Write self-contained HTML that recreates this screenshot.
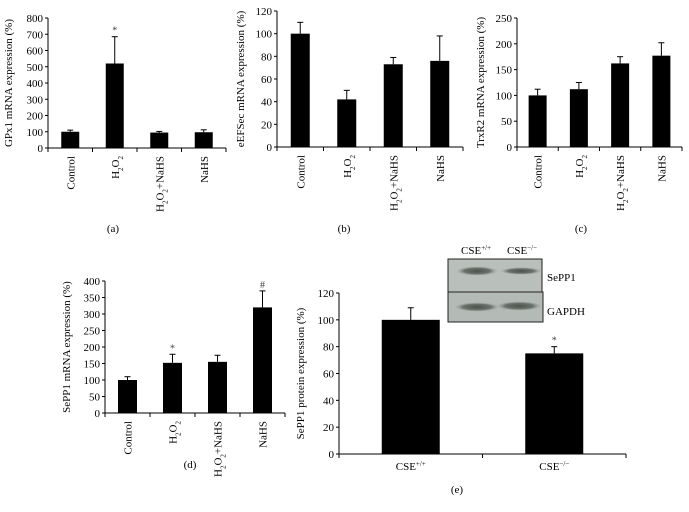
<!DOCTYPE html>
<html><head><meta charset="utf-8"><style>
html,body{margin:0;padding:0;background:#fff;}
svg{display:block;font-family:"Liberation Serif",serif;}
</style></head><body>
<svg id="fig" width="689" height="512" viewBox="0 0 689 512"></svg>
<script>
const catsMRNA = ["Control","H2O2","H2O2+NaHS","NaHS"];
const gpx1Vals = [100, 520, 95, 97];
const gpx1Err = [110, 685, 102, 112];
const eefsecVals = [100, 42, 73, 76];
const eefsecErr = [110, 50, 79, 98];
const trxr2Vals = [100, 112, 162, 177];
const trxr2Err = [112, 125, 175, 202];
const sepp1Vals = [100, 152, 155, 320];
const sepp1Err = [110, 178, 175, 370];
const stars_d = ["", "*", "", "#"];
const stars_a = ["", "*", "", ""];
const catsE = ["CSE+/+","CSE-/-"];
const proteinVals = [100, 75];
const proteinErr = [109, 80];
const stars_e = ["", "*"];
const ticksA = [0,100,200,300,400,500,600,700,800];
const ticksB = [0,20,40,60,80,100,120];
const ticksC = [0,50,100,150,200,250];
const ticksD = [0,50,100,150,200,250,300,350,400];
const ticksE = [0,20,40,60,80,100,120];

const NS="http://www.w3.org/2000/svg";
const svg=document.getElementById('fig');
function mk(tag,attrs,parent){const e=document.createElementNS(NS,tag);for(const k in attrs)e.setAttribute(k,attrs[k]);(parent||svg).appendChild(e);return e;}

function catLabel(g,txt,x,y,rot){
  const t=mk('text',{x:x,y:y,'font-size':11,fill:'#000'},g);
  if(rot){t.setAttribute('transform','rotate(-90 '+x+' '+y+')');t.setAttribute('text-anchor','end');}
  else t.setAttribute('text-anchor','middle');
  function add(s,shift){const sp=mk('tspan',{},t);sp.textContent=s;if(shift){sp.setAttribute('baseline-shift',shift);sp.setAttribute('font-size',7);}}
  if(txt==="H2O2"){add("H");add("2","sub");add("O");add("2","sub");}
  else if(txt==="H2O2+NaHS"){add("H");add("2","sub");add("O");add("2","sub");add("+NaHS");}
  else if(txt==="CSE+/+"){add("CSE");add("+/+","super");}
  else if(txt==="CSE-/-"){add("CSE");add("\u2212/\u2212","super");}
  else add(txt);
  return t;
}

function panel(p){
  const g=mk('g',{});
  
  
  const ymax=p.ticks[p.ticks.length-1];
  const Y=v=>p.y0-(v/ymax)*(p.y0-p.y1);
  const cw=(p.x1-p.x0)/p.cats.length;
  const X=i=>p.x0+cw*(i+0.5);
  // axes
  const ya=mk('line',{x1:p.x0,y1:p.y1,x2:p.x0,y2:p.y0+4,stroke:'#000','stroke-width':1},g);
  
  const xa=mk('line',{x1:p.x0-3,y1:p.y0,x2:p.x1,y2:p.y0,stroke:'#000','stroke-width':1},g);
  
  p.ticks.forEach(v=>{
    mk('line',{x1:p.x0-3,y1:Y(v),x2:p.x0,y2:Y(v),stroke:'#000'},g);
    const t=mk('text',{x:p.x0-5,y:Y(v)+4,'font-size':11,'text-anchor':'end'},g);
    t.textContent=v;
    
  });
  for(let i=1;i<=p.cats.length;i++) mk('line',{x1:p.x0+cw*i,y1:p.y0,x2:p.x0+cw*i,y2:p.y0+4,stroke:'#000'},g);
  p.vals.forEach((v,i)=>{
    const cx=X(i);
    const el=mk('line',{x1:cx,y1:Y(v),x2:cx,y2:Y(p.err[i]),stroke:'#000','stroke-width':1},g);
    
    mk('line',{x1:cx-3,y1:Y(p.err[i]),x2:cx+3,y2:Y(p.err[i]),stroke:'#000'},g);
    const r=mk('rect',{x:cx-p.bw/2,y:Y(v),width:p.bw,height:p.y0-Y(v),fill:'#000'},g);
    
    
    if(p.stars&&p.stars[i]){const s=mk('text',{x:cx,y:Y(p.err[i])-3,'font-size':10,'text-anchor':'middle',fill:'#444'},g);s.textContent=p.stars[i];
      }
    const l=catLabel(g,p.cats[i],p.rot?cx+4:cx,p.rot?p.y0+8:p.y0+16,p.rot);
    
  });
  const tx=p.titleX, ty=(p.y0+p.y1)/2;
  const tt=mk('text',{x:tx,y:ty,'font-size':11,'text-anchor':'middle',transform:'rotate(-90 '+tx+' '+ty+')'},g);
  tt.textContent=p.title;
  
  const pl=mk('text',{x:p.lx,y:p.ly,'font-size':11,'text-anchor':'middle'},g);
  pl.textContent=p.letter;
  
}

panel({name:'panel-a-gpx1',x0:48,x1:226,y0:148,y1:18,ticks:ticksA,cats:catsMRNA,vals:gpx1Vals,err:gpx1Err,stars:stars_a,bw:18,rot:true,title:'GPx1 mRNA expression (%)',titleX:12,letter:'(a)',lx:113,ly:232});
panel({name:'panel-b-eefsec',x0:277,x1:463,y0:147,y1:11,ticks:ticksB,cats:catsMRNA,vals:eefsecVals,err:eefsecErr,bw:19,rot:true,title:'eEFSec mRNA expression (%)',titleX:244,letter:'(b)',lx:344,ly:232});
panel({name:'panel-c-trxr2',x0:517,x1:682,y0:147,y1:18,ticks:ticksC,cats:catsMRNA,vals:trxr2Vals,err:trxr2Err,bw:18,rot:true,title:'TrxR2 mRNA expression (%)',titleX:484,letter:'(c)',lx:581,ly:232});
panel({name:'panel-d-sepp1-mrna',x0:105,x1:285,y0:413,y1:281,ticks:ticksD,cats:catsMRNA,vals:sepp1Vals,err:sepp1Err,stars:stars_d,bw:19,rot:true,title:'SePP1 mRNA expression (%)',titleX:70,letter:'(d)',lx:190,ly:468});
panel({name:'panel-e-sepp1-protein',x0:339,x1:626,y0:454,y1:293,ticks:ticksE,cats:catsE,vals:proteinVals,err:proteinErr,stars:stars_e,bw:58,rot:false,title:'SePP1 protein expression (%)',titleX:304,letter:'(e)',lx:457,ly:493});
</script>
<svg width="689" height="512" style="position:absolute;left:0;top:0">
  <defs>
    <radialGradient id="band"><stop offset="0" stop-color="#4a524c"/><stop offset="0.6" stop-color="#6c736e"/><stop offset="1" stop-color="#b8beb8" stop-opacity="0"/></radialGradient>
  </defs>
  <rect x="448" y="259" width="94" height="33" fill="#b9bfba" stroke="#222" stroke-width="1"/>
  <rect x="448" y="292" width="95" height="30" fill="#b4bab5" stroke="#222" stroke-width="1"/>
  <ellipse cx="477" cy="271" rx="22" ry="5" fill="url(#band)"/>
  <ellipse cx="521" cy="271" rx="22" ry="4" fill="url(#band)"/>
  <ellipse cx="477" cy="307" rx="24" ry="5" fill="url(#band)"/>
  <ellipse cx="519" cy="306" rx="24" ry="5" fill="url(#band)"/>
  <text x="547" y="281" font-size="11" font-family="Liberation Serif,serif">SePP1</text>
  <text x="547" y="315" font-size="11" font-family="Liberation Serif,serif">GAPDH</text>
  <text x="461" y="254" font-size="11" font-family="Liberation Serif,serif">CSE<tspan font-size="7" baseline-shift="super">+/+</tspan></text>
  <text x="507" y="254" font-size="11" font-family="Liberation Serif,serif">CSE<tspan font-size="7" baseline-shift="super">−/−</tspan></text>
</svg>
</body></html>
